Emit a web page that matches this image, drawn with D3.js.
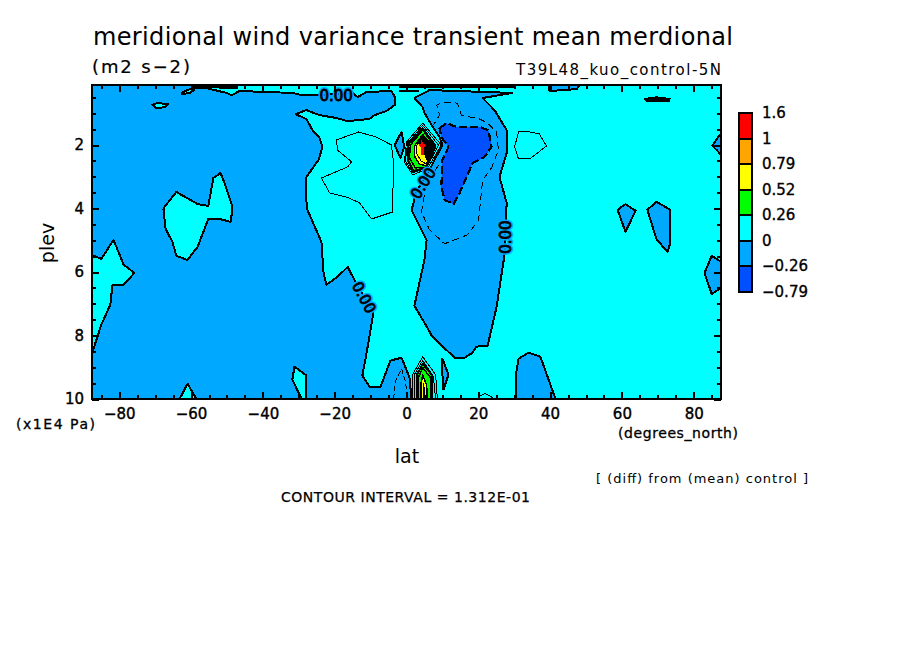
<!DOCTYPE html>
<html><head><meta charset="utf-8">
<script src="https://cdn.jsdelivr.net/npm/d3@7"></script>
<style>
html,body{margin:0;padding:0;background:#fff}
svg{display:block}
text{font-family:"DejaVu Sans",sans-serif;fill:#000}
</style></head><body>
<svg id="c" width="904" height="654"></svg>
<script>
// ---- axis and legend values ----
const latTicks = [-80,-60,-40,-20,0,20,40,60,80];
const latMinor = d3.range(-85,86,5);
const plevTicks = [2,4,6,8,10];
const plevMinor = d3.range(0.5,10,0.5);
const legendLabels = ["1.6","1","0.79","0.52","0.26","0","\u22120.26","\u22120.79"];
const legendColors = ["#ff0000","#ffa500","#ffff00","#00ff00","#00ffff","#00a8ff","#0050ff"];

// ---- contours, [lat, plev] ----
const zeroLeft = [[-87.7,.11],[-56.8,.11],[-56.8,.18],[-50.1,.36],[-48.7,.43],[-46.5,.30],[-31.8,.36],[-29.2,.43],[-24.2,.43],[-15,.36],[-13.6,.49],[-11.1,.33],[-4.2,.30],[-3.1,.52],[-3.3,.74],[-5.6,.93],[-8.9,1.06],[-10.3,1.18],[-16.4,1.25],[-19.5,1.15],[-24.2,1.06],[-27.9,.90],[-30.9,1.03],[-27.9,1.18],[-26.2,1.53],[-24.2,1.78],[-23.4,2.06],[-24.5,2.47],[-27.9,3.01],[-27.9,3.73],[-27.6,4.04],[-23.7,5.05],[-23.1,6.03],[-22.3,6.40],[-19.2,6.15],[-16.4,5.84],[-14.5,6.25],[-9.2,7.28],[-11.1,8.54],[-12.3,9.26],[-10.3,9.61],[-7.2,9.61],[-4.5,8.79],[-1.4,8.70],[.8,9.30],[1.4,10],[-87.7,10]];
const zeroCenter = [[2.2,.52],[6.4,.27],[29.5,.36],[21.2,.52],[24.5,.90],[27.9,1.53],[27.9,2.25],[25.9,3.01],[27.9,3.82],[27.3,5.46],[25.1,7.09],[22.6,8.32],[19.5,8.35],[18.4,8.54],[16.2,8.70],[13.4,8.70],[7.2,8.04],[5,7.60],[2.2,7.06],[4.2,6.03],[5,5.62],[5.6,4.99],[1.4,4.04],[2.2,3.73],[2.2,3.57],[6.4,2.79],[8.1,2.41],[10,2],[9.2,1.75],[7,1.37],[5,.99],[4.5,.81]];
const zeroTopStrip = [[39.8,.11],[48.3,.11],[47.4,.24],[39.8,.30]];
const zeroR1 = [[58.8,4.04],[61,3.86],[63.8,4.07],[61,4.74]];
const zeroR2 = [[67.1,4.04],[69.6,3.79],[73.5,4.04],[73.5,5.08],[72.7,5.37],[69.6,4.96]];
const zeroR3 = [[85,5.49],[87.6,5.68],[87.6,6.50],[85,6.69],[83,6.03]];
const zeroBottom = [[30.4,10],[30.4,9.30],[31.2,8.73],[34,8.54],[37.3,8.67],[39.3,9.30],[41.5,10]];
const zeroSliver = [[10,8.73],[11.7,9.23],[10.3,9.70],[10,9.23]];
const zeroEdgeR = [[85.2,2.03],[86.6,1.78],[87.6,1.65],[87.6,2.31],[86.4,2.16]];
const zeroDiamond = [[-1.4,1.59],[-3.3,2],[-1.7,2.41],[-.6,2.06]];
const zeroLensTop = [[66.3,.55],[69.6,.50],[73.3,.55],[73,.62],[67,.62]];
const zeroTopEdgeA = [[-60,.2],[-55,.17],[-47,.18]];
const zeroTopEdgeB = [[-2,.17],[30,.17]];
const zeroTopDashA = [[-2,.27],[3.5,.27]];
const zeroTopDashB = [[-2,.33],[3.5,.33]];
const holeA = [[-67.7,4.04],[-67.4,3.95],[-64.1,3.48],[-58.2,3.86],[-55.2,3.92],[-53.8,3.04],[-51.8,2.88],[-50.7,3.19],[-48.5,3.95],[-48.5,4.04],[-49,4.42],[-52.1,4.33],[-55.2,4.33],[-58.2,5.21],[-61,5.62],[-64.1,5.49],[-65.2,5.05],[-67.1,4.64]];
const holeB = [[-87.7,5.49],[-86.9,5.49],[-85,5.59],[-81.6,4.99],[-78.8,5.77],[-75.8,6.03],[-78.8,6.40],[-81.9,6.40],[-82.5,7.03],[-85,7.66],[-87.7,8.60]];
const holeTri = [[-63.2,10],[-61,9.52],[-58.5,10]];
const holeD = [[-31.2,8.98],[-27.9,9.26],[-27.9,10],[-29.2,10],[-31.8,9.39]];
const holeLens1 = [[-70.8,.74],[-69.4,.68],[-66.3,.71],[-67.4,.81],[-69.6,.84]];
const holeLens2 = [[-62.7,.36],[-60.4,.24],[-59.1,.27],[-60.4,.36],[-62.4,.40]];
const minus26 = [[9.2,1.47],[11.1,1.31],[13.9,1.43],[20.3,1.43],[22.8,1.53],[23.7,2.06],[21.7,2.38],[18.4,2.57],[14.8,3.51],[13.1,3.86],[10.6,3.73],[9.7,3.32],[10,2.47],[11.7,2.06],[9.7,1.75]];
const minus13 = [[8.9,2.63],[6.4,3.10],[5,3.57],[4.2,4.11],[6.4,4.67],[10.6,5.11],[17,4.83],[20.1,4.36],[21.2,3.10],[23.7,2.72],[25.6,2.16],[25.1,1.59],[22.6,1.31],[20.3,1.18],[15.3,1.06],[14.2,.68],[10,.65],[8.4,.74],[9.2,1.06],[7.5,1.37]];
const minus13Bottom = [[-3.6,10],[-3.1,9.45],[-1.4,9.04],[-.3,9.45],[.3,10]];
const plus13Left = [[-19.5,1.84],[-13.4,1.59],[-8.4,1.75],[-4.2,2],[-3.6,2.57],[-3.9,4.11],[-9.7,4.33],[-13.1,3.82],[-16.7,3.64],[-21.4,3.51],[-23.7,3.04],[-16.4,2.69],[-15.3,2.53],[-19.2,2.16]];
const plus13Right = [[30.1,2.06],[31.2,1.59],[34.3,1.59],[37,1.65],[39,2.03],[34.3,2.44],[31.2,2.44]];
const plus13Foot = [[19.8,9.92],[22,9.83],[24,9.96]];
const peakA1 = [[4.5,1.31],[9.7,2],[5.8,2.75],[1.7,2.94],[-.6,2.53],[0,1.91]];
const peakA2 = [[4.5,1.38],[8.9,2],[5.6,2.72],[1.7,2.88],[-.3,2.5],[.3,1.94]];
const peakA3 = [[4.5,1.47],[8.1,2.03],[5.6,2.7],[1.9,2.82],[.3,2.47],[.6,1.97]];
const peakA4 = [[4.5,1.53],[7.8,2.03],[5.3,2.7],[2.5,2.72],[.8,2.41],[1.1,2]];
const peakA5 = [[4.5,1.68],[7.5,2.03],[5.6,2.66],[3.6,2.6],[2.2,2.35],[2.2,2.03]];
const peakA6 = [[4.5,1.7],[7.2,2.03],[5.5,2.6],[4,2.5],[2.8,2.25],[2.8,2.03]];
const peakA7 = [[4.5,1.66],[7.2,2.03],[5.8,2.5],[5.1,2.3],[4,2.06],[3,1.9]];
const peakA8 = [[4.2,1.84],[4.7,1.97],[5.6,2],[4.9,2.06],[4.9,2.3],[4,2.3],[4,2.06],[3.2,2],[4,1.97]];
const peakB1 = [[1.7,10],[1.7,9.23],[4.5,8.67],[8.1,9.23],[8.6,10]];
const peakB2 = [[2.2,10],[2.2,9.23],[4.5,8.79],[7.5,9.30],[8.1,10]];
const peakB3 = [[2.8,10],[2.8,9.26],[4.5,8.89],[7.2,9.26],[7.2,10]];
const peakB4 = [[3.3,10],[3.3,9.33],[4.5,9.01],[6.7,9.33],[6.7,10]];
const peakB5 = [[4,10],[4,9.55],[4.5,9.25],[5.6,9.55],[5.8,10]];
const peakB6 = [[4.6,10],[4.8,9.5],[5.1,10]];
const contourLabelLat = [-19.6,-11.8,27.6,4.6];
const contourLabelPlev = [.43,6.8,4.9,3.2];
const contourLabelAngle = [0,62,-90,-58];
const contourLabelBack = ["#00a8ff","#00a8ff","#00a8ff","#00a8ff"];

// ---- layout ----
const W=904,H=654,L=92,R=721,T=85,B=399;
const svg=d3.select("#c");
const x=d3.scaleLinear().domain([-87.6,87.6]).range([L,R]);
const y=d3.scaleLinear().domain([0.11,10]).range([T,B]);
const path=d3.line().x(d=>x(d[0])).y(d=>y(d[1]));
const closed=d=>path(d)+"Z";

svg.append("rect").attr("x",L).attr("y",T).attr("width",R-L).attr("height",B-T).attr("fill","#00ffff");
svg.append("clipPath").attr("id","plot").append("rect").attr("x",L).attr("y",T).attr("width",R-L).attr("height",B-T);
const g=svg.append("g").attr("clip-path","url(#plot)").attr("shape-rendering","crispEdges").attr("stroke-linejoin","round");

function draw(d,fill,w,dash,open){
  g.append("path").attr("d",open?path(d):closed(d)).attr("fill",fill||"none")
   .attr("stroke","#000").attr("stroke-width",w).attr("stroke-dasharray",dash||null);
}
const c=legendColors;
[zeroLeft,zeroCenter,zeroTopStrip,zeroR1,zeroR2,zeroR3,zeroBottom,zeroSliver,zeroEdgeR,zeroDiamond].forEach(d=>draw(d,c[5],2));
draw(zeroLensTop,"#000",2);
draw(zeroTopEdgeA,null,3,null,true);draw(zeroTopEdgeB,null,3,null,true);
draw(zeroTopDashA,null,1,null,true);draw(zeroTopDashB,null,1,null,true);
[holeA,holeB,holeTri,holeD,holeLens1,holeLens2].forEach(d=>draw(d,c[4],2));
draw(minus26,c[6],2.2,"8 3");
draw(minus13,null,1,"7 4",true);
draw(minus13Bottom,null,1,"5 3",true);
draw(plus13Left,null,1);draw(plus13Right,null,1);draw(plus13Foot,null,1,null,true);
draw(peakA1,null,1);draw(peakA2,null,1);
draw(peakA3,c[3],2);draw(peakA4,c[3],1.5);draw(peakA5,c[2],1.5);draw(peakA6,c[2],1);draw(peakA7,"#000",1);
g.append("path").attr("d",closed(peakA8)).attr("fill",c[0]);
draw(peakB1,null,1);draw(peakB2,null,1);
draw(peakB3,c[3],2);draw(peakB4,c[3],1.5);draw(peakB5,c[2],1.5);draw(peakB6,c[2],1);

contourLabelLat.forEach((la,i)=>{
  const tr=`translate(${x(la)},${y(contourLabelPlev[i])}) rotate(${contourLabelAngle[i]})`;
  g.append("text").text("0.00").attr("transform",tr).attr("text-anchor","middle").attr("dy",".36em")
   .style("font-size","15px").style("fill",contourLabelBack[i])
   .attr("stroke",contourLabelBack[i]).attr("stroke-width",4);
  g.append("text").text("0.00").attr("transform",tr).attr("text-anchor","middle").attr("dy",".36em")
   .style("font-size","15px").attr("stroke","#000").attr("stroke-width",.8);
});

// ---- axes ----
function axes(){
  const fmt=d3.format("d");
  const tk=(gen,tr)=>{const a=svg.append("g").attr("transform",tr).attr("shape-rendering","crispEdges").call(gen);
     a.select(".domain").remove();a.selectAll("line").attr("stroke","#000").attr("stroke-width",2);
     a.selectAll("text").style("font-size","15px").style("font-family",'"DejaVu Sans"').attr("stroke","#000").attr("stroke-width",.4);return a;};
  tk(d3.axisBottom(x).tickValues(latTicks).tickFormat(fmt).tickSize(-7).tickPadding(9),`translate(0,${B})`);
  tk(d3.axisBottom(x).tickValues(latMinor).tickFormat("").tickSize(-4),`translate(0,${B})`);
  tk(d3.axisTop(x).tickValues(latTicks).tickFormat("").tickSize(-7),`translate(0,${T})`);
  tk(d3.axisTop(x).tickValues(latMinor).tickFormat("").tickSize(-4),`translate(0,${T})`);
  tk(d3.axisLeft(y).tickValues(plevTicks).tickFormat(fmt).tickSize(-7).tickPadding(8),`translate(${L},0)`);
  tk(d3.axisLeft(y).tickValues(plevMinor).tickFormat("").tickSize(-4),`translate(${L},0)`);
  tk(d3.axisRight(y).tickValues(plevTicks).tickFormat("").tickSize(-7),`translate(${R},0)`);
  tk(d3.axisRight(y).tickValues(plevMinor).tickFormat("").tickSize(-4),`translate(${R},0)`);
}
axes();
svg.append("rect").attr("x",L).attr("y",T).attr("width",R-L).attr("height",B-T).attr("fill","none").attr("stroke","#000").attr("stroke-width",2).attr("shape-rendering","crispEdges");

// ---- texts ----
function t(s,px,py,size,opt={}){
  const e=svg.append("text").text(s).attr("x",px).attr("y",py).style("font-size",size+"px");
  if(opt.len)e.attr("textLength",opt.len).attr("lengthAdjust","spacing");
  if(opt.anchor)e.attr("text-anchor",opt.anchor);
  if(opt.bold)e.attr("stroke","#000").attr("stroke-width",opt.bold);
  if(opt.rot)e.attr("transform",`rotate(${opt.rot} ${px} ${py})`);
  return e;
}
t("meridional wind variance transient mean merdional",93,45,24,{len:640});
t("(m2 s\u22122)",92,73,18,{len:98,bold:.2});
t("T39L48_kuo_control-5N",516,75,15,{len:205});
t("(x1E4 Pa)",16,429,14,{len:79,bold:.3});
t("(degrees_north)",618,438,14,{len:120,bold:.3});
t("lat",407,463,19,{anchor:"middle"});
t("plev",54,243,19,{anchor:"middle",rot:-90});
t("[ (diff) from (mean) control ]",596,483,13,{len:212});
t("CONTOUR INTERVAL = 1.312E-01",281,502,14,{len:249,bold:.25});

// ---- legend ----
const ly=d3.scalePoint().domain(legendLabels).range([113,292]);
const lg=svg.append("g").attr("shape-rendering","crispEdges");
legendColors.forEach((col,i)=>{
  lg.append("rect").attr("x",739).attr("y",ly(legendLabels[i])).attr("width",13)
    .attr("height",ly(legendLabels[i+1])-ly(legendLabels[i])).attr("fill",col).attr("stroke","#000").attr("stroke-width",2);
});
legendLabels.forEach(s=>{
  t(s,762,ly(s)+5,15,{bold:.35});
});
</script></body></html>
